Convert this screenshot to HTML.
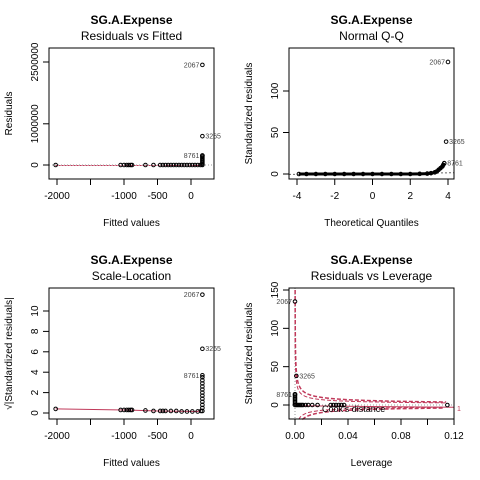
<!DOCTYPE html>
<html><head><meta charset="utf-8"><style>
html,body{margin:0;background:#fff;width:480px;height:480px;overflow:hidden;}
svg{display:block;font-family:"Liberation Sans",Arial,sans-serif;}
</style></head><body>
<svg id="c" width="480" height="480" viewBox="0 0 480 480"></svg>
<script>
// ---- data ----
const rvfFitted=[-2020,-1050,-1000,-960,-930,-900,-880,-680,-560,-460,-420,-380,-340,-300,-260,-220,-180,-140,-100,-60,-20,20,60,100,140,170,170,170,170,170,170,170,170,170];
const rvfResid=[0,0,0,0,0,0,0,0,0,0,0,0,0,0,0,0,0,0,0,0,0,0,0,0,0,0,20000,50000,80000,110000,140000,170000,200000,230000];
const rvfLabels=[{x:170,y:2430000,t:"2067",side:"l"},{x:170,y:700000,t:"3265",side:"r"},{x:170,y:230000,t:"8761",side:"l"}];
const qqTheo=[-3.9,-3.5,-3,-2.5,-2,-1.5,-1,-0.5,0,0.5,1,1.5,2,2.5,2.9,3.1,3.3,3.4,3.5,3.6,3.7,3.75,3.8];
const qqStd=[0,0,0,0,0,0,0,0,0,0,0,0,0,0.2,0.5,1,2,3,5,7,9,11,13];
const qqLabels=[{x:4.0,y:135,t:"2067",side:"l"},{x:3.9,y:39,t:"3265",side:"r"},{x:3.8,y:13,t:"8761",side:"r"}];
const slFitted=[-2020,-1050,-1000,-960,-930,-900,-880,-680,-560,-460,-420,-380,-300,-220,-140,-60,20,100,150,170,170,170,170,170,170,170,170,170,170,170,170];
const slVal=[0.4,0.3,0.3,0.3,0.3,0.3,0.3,0.25,0.2,0.2,0.2,0.2,0.2,0.2,0.15,0.15,0.15,0.15,0.2,0.2,0.5,0.8,1.1,1.4,1.7,2,2.3,2.6,2.9,3.2,3.5];
const slLabels=[{x:170,y:11.6,t:"2067",side:"l"},{x:170,y:6.3,t:"3265",side:"r"},{x:170,y:3.7,t:"8761",side:"l"}];
const levH=[0,0,0,0,0,0,0,0,0.001,0.002,0.003,0.004,0.005,0.006,0.008,0.01,0.013,0.017,0.027,0.029,0.031,0.033,0.035,0.037,0.115];
const levStd=[0,2,4,6,8,10,12,14,0,0,0,0,0,0,0,0,0,0,0,0,0,0,0,0,0];
const levLabels=[{x:0,y:135,t:"2067",side:"l"},{x:0.001,y:38,t:"3265",side:"r"},{x:0,y:14,t:"8761",side:"l"}];

const svg=document.getElementById('c');const NS="http://www.w3.org/2000/svg";
function el(tag,a,p){const e=document.createElementNS(NS,tag);for(const k in a)e.setAttribute(k,a[k]);(p||svg).appendChild(e);return e;}
function txt(s,a,name){const t=el('text',a);t.textContent=s;

return t;}
function lin(d0,d1,r0,r1){return v=>r0+(v-d0)*(r1-r0)/(d1-d0);}

function panel(o){
 const g=el('g',{});
 
 
 const cx=(o.x0+o.x1)/2;
 txt("SG.A.Expense",{x:cx,y:o.y0-24,'font-size':12,'font-weight':'bold','text-anchor':'middle'},'plot-title');
 txt(o.sub,{x:cx,y:o.y0-8,'font-size':12,'text-anchor':'middle'},'plot-subtitle');
 txt(o.xl,{x:cx,y:o.y1+47,'font-size':10,'text-anchor':'middle'},'x-axis-title');
 txt(o.yl,{x:0,y:0,'font-size':10,'text-anchor':'middle',transform:`translate(${o.x0-37},${(o.y0+o.y1)/2}) rotate(-90)`},'y-axis-title');
 const X=o.X,Y=o.Y;
 o.extra&&o.extra(X,Y);
 for(let i=0;i<o.xt.length;i++){const x=X(o.xt[i]);el('line',{x1:x,x2:x,y1:o.y1,y2:o.y1+6,stroke:'#000'});
  if(o.xtl[i]!=="")txt(o.xtl[i],{x:x,y:o.y1+20,'font-size':10,'text-anchor':'middle'},'x-tick-label');}
 for(let i=0;i<o.yt.length;i++){const y=Y(o.yt[i]);el('line',{x1:o.x0-6,x2:o.x0,y1:y,y2:y,stroke:'#000'});
  txt(o.ytl[i],{x:0,y:0,'font-size':10,'text-anchor':'middle',transform:`translate(${o.x0-11},${y}) rotate(-90)`},'y-tick-label');}
 for(let i=0;i<o.px.length;i++){const c=el('circle',{cx:X(o.px[i]),cy:Y(o.py[i]),r:1.8,fill:'none',stroke:'#000','stroke-width':1});
  
  }
 o.labels.forEach(l=>{const x=X(l.x),y=Y(l.y);const c=el('circle',{cx:x,cy:y,r:1.8,fill:'none',stroke:'#000'});
  
  
  txt(l.t,{x:l.side=='l'?x-3:x+3,y:y+2.5,'font-size':7,fill:'#444','text-anchor':l.side=='l'?'end':'start'},'point-label');});
 const b=el('rect',{x:o.x0,y:o.y0,width:o.x1-o.x0,height:o.y1-o.y0,fill:'none',stroke:'#000'});
 
 
}
// panel 1
panel({name:'residuals-vs-fitted',x0:49,x1:214,y0:48,y1:179,X:lin(0,500,191,224.5),Y:lin(0,2500000,165,62),
 sub:"Residuals vs Fitted",xl:"Fitted values",yl:"Residuals",xt:[-2000,-1500,-1000,-500,0],xtl:["-2000","","-1000","-500","0"],
 yt:[0,1000000,2500000],ytl:["0","1000000","2500000"],px:rvfFitted,py:rvfResid,labels:rvfLabels,
 extra:(X,Y)=>{el('line',{x1:49,x2:214,y1:Y(0),y2:Y(0),stroke:'#999','stroke-dasharray':'1,2'});
  el('line',{x1:X(-2020),x2:X(170),y1:Y(0)+0.5,y2:Y(0)+0.5,stroke:'#c0395a','stroke-dasharray':'2,1'});}});
// panel 2
panel({name:'normal-qq',x0:289,x1:454,y0:48,y1:179,X:lin(-4,4,297,448),Y:lin(0,100,174,91),
 sub:"Normal Q-Q",xl:"Theoretical Quantiles",yl:"Standardized residuals",xt:[-4,-2,0,2,4],xtl:["-4","-2","0","2","4"],
 yt:[0,50,100],ytl:["0","50","100"],px:qqTheo,py:qqStd,labels:qqLabels,
 extra:(X,Y)=>{el('line',{x1:289,x2:454,y1:Y(-0.5),y2:Y(1.5),stroke:'#666','stroke-dasharray':'2,2'});
  const p=qqTheo.map((v,i)=>X(v)+','+Y(qqStd[i])).join(' ');el('polyline',{points:p,fill:'none',stroke:'#000','stroke-width':3});}});
// panel 3
panel({name:'scale-location',x0:49,x1:214,y0:288,y1:419,X:lin(0,500,191,224.5),Y:lin(0,10,413,311),
 sub:"Scale-Location",xl:"Fitted values",yl:"√|Standardized residuals|",xt:[-2000,-1500,-1000,-500,0],xtl:["-2000","","-1000","-500","0"],
 yt:[0,2,4,6,8,10],ytl:["0","2","4","6","8","10"],px:slFitted,py:slVal,labels:slLabels,
 extra:(X,Y)=>{el('polyline',{points:[[-2020,0.4],[-1000,0.3],[-500,0.2],[100,0.15],[170,0.4]].map(d=>X(d[0])+','+Y(d[1])).join(' '),fill:'none',stroke:'#c0395a'});}});
// panel 4
panel({name:'residuals-vs-leverage',x0:289,x1:454,y0:288,y1:419,X:lin(0,0.12,295,454),Y:lin(0,150,405,290),
 sub:"Residuals vs Leverage",xl:"Leverage",yl:"Standardized residuals",xt:[0,0.02,0.04,0.06,0.08,0.1,0.12],xtl:["0.00","","0.04","","0.08","","0.12"],
 yt:[0,50,100,150],ytl:["0","50","100","150"],px:levH,py:levStd,labels:levLabels,
 extra:(X,Y)=>{
  el('line',{x1:289,x2:454,y1:Y(0),y2:Y(0),stroke:'#999','stroke-dasharray':'1,2'});
  el('line',{x1:X(0),x2:X(0),y1:288,y2:419,stroke:'#999','stroke-dasharray':'1,2'});
  [0.5,1].forEach(c=>[1,-1].forEach(s=>{const lim=s>0?150:19;const pts=[];for(let h=2*c/(lim*lim);h<=0.12;h*=1.08){pts.push(X(h)+','+Y(s*Math.sqrt(c*2*(1-h)/h)));}
   el('polyline',{points:pts.join(' '),fill:'none',stroke:'#c0395a','stroke-dasharray':'4,2','stroke-width':c==1?1.5:1});}));
  el('polyline',{points:[[0,1],[0.003,-1],[0.12,-3]].map(d=>X(d[0])+','+Y(d[1])).join(' '),fill:'none',stroke:'#c0395a'});
  txt("Cook's distance",{x:322,y:412,'font-size':9},'cooks-distance-legend');
  txt("1",{x:457,y:411,'font-size':7,fill:'#c0395a'},'cooks-contour-label');}});
</script>
</body></html>
